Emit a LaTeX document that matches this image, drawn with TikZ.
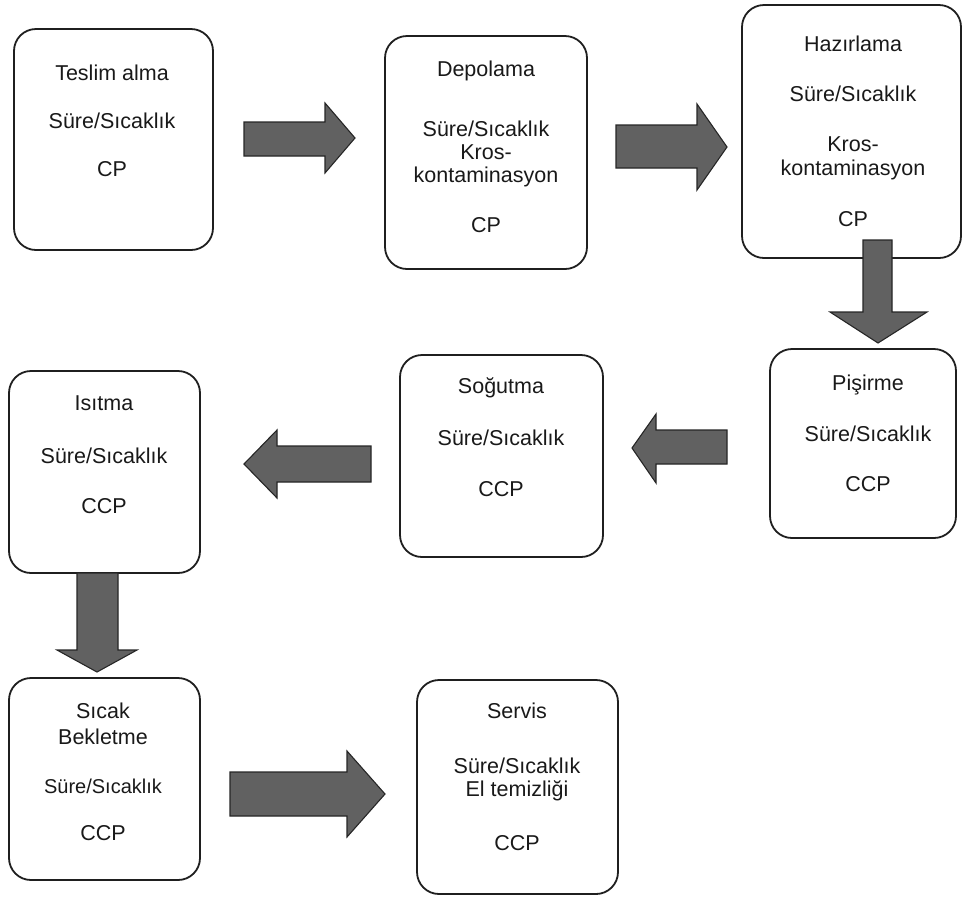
\documentclass[tikz,border=0pt]{standalone}
\usepackage{fontspec}
\setmainfont{Liberation Sans}
\usetikzlibrary{fit}
\begin{document}
\begin{tikzpicture}[x=1pt,y=-1pt,
  stagebox/.style={draw=black!88, line width=1.8pt, rounded corners=22pt, inner sep=0pt},
  lbl/.style={anchor=base, inner sep=0pt, text=black!90, font=\fontsize{21.5}{25}\selectfont},
  blockarr/.style={fill=black!62, draw=black!85, line width=1.1pt, line join=miter}]
\useasboundingbox (0,0) rectangle (965,898);

% process stages
\node[stagebox, fit={(14,29) (213,250)}] (teslim) {};
\node[stagebox, fit={(385,36) (587,269)}] (depo) {};
\node[stagebox, fit={(742,5) (961,258)}] (hazir) {};
\node[stagebox, fit={(770,349) (956,538)}] (pisir) {};
\node[stagebox, fit={(400,355) (603,557)}] (sogut) {};
\node[stagebox, fit={(9,371) (200,573)}] (isit) {};
\node[stagebox, fit={(9,678) (200,880)}] (sicak) {};
\node[stagebox, fit={(417,680) (618,894)}] (servis) {};

% stage texts (y = baseline)
\node[lbl] (teslim-a) at (112,80) {Teslim alma};
\node[lbl] (teslim-b) at (112,128) {Süre/Sıcaklık};
\node[lbl] (teslim-c) at (112,176) {CP};

\node[lbl] (depo-a) at (486,76) {Depolama};
\node[lbl] (depo-b) at (486,136) {Süre/Sıcaklık};
\node[lbl] (depo-c) at (486,159) {Kros-};
\node[lbl] (depo-d) at (486,182) {kontaminasyon};
\node[lbl] (depo-e) at (486,232) {CP};

\node[lbl] (hazir-a) at (853,51) {Hazırlama};
\node[lbl] (hazir-b) at (853,101) {Süre/Sıcaklık};
\node[lbl] (hazir-c) at (853,151) {Kros-};
\node[lbl] (hazir-d) at (853,175) {kontaminasyon};
\node[lbl] (hazir-e) at (853,226) {CP};

\node[lbl] (pisir-a) at (868,390) {Pişirme};
\node[lbl] (pisir-b) at (868,441) {Süre/Sıcaklık};
\node[lbl] (pisir-c) at (868,491) {CCP};

\node[lbl] (sogut-a) at (501,393) {Soğutma};
\node[lbl] (sogut-b) at (501,445) {Süre/Sıcaklık};
\node[lbl] (sogut-c) at (501,496) {CCP};

\node[lbl] (isit-a) at (104,410) {Isıtma};
\node[lbl] (isit-b) at (104,463) {Süre/Sıcaklık};
\node[lbl] (isit-c) at (104,513) {CCP};

\node[lbl] (sicak-a) at (103,718) {Sıcak};
\node[lbl] (sicak-b) at (103,744) {Bekletme};
\node[lbl, font=\fontsize{20}{24}\selectfont] (sicak-c) at (103,793) {Süre/Sıcaklık};
\node[lbl] (sicak-d) at (103,840) {CCP};

\node[lbl] (servis-a) at (517,718) {Servis};
\node[lbl] (servis-b) at (517,773) {Süre/Sıcaklık};
\node[lbl] (servis-c) at (517,796) {El temizliği};
\node[lbl] (servis-d) at (517,850) {CCP};

% block arrows between the stages
\filldraw[blockarr] (244,122) -- (325,122) -- (325,103) -- (355,138) -- (325,173) -- (325,156) -- (244,156) -- cycle;
\filldraw[blockarr] (616,125) -- (697,125) -- (697,104) -- (727,147) -- (697,190) -- (697,168) -- (616,168) -- cycle;
\filldraw[blockarr] (863,240) -- (863,312) -- (830,312) -- (878,343) -- (927,312) -- (892,312) -- (892,240) -- cycle;
\filldraw[blockarr] (727,430) -- (656,430) -- (656,414) -- (632,448) -- (656,483) -- (656,464) -- (727,464) -- cycle;
\filldraw[blockarr] (371,446) -- (277,446) -- (277,430) -- (244,464) -- (277,498) -- (277,482) -- (371,482) -- cycle;
\filldraw[blockarr] (77,573) -- (77,650) -- (57,650) -- (97,672) -- (137,650) -- (118,650) -- (118,573) -- cycle;
\filldraw[blockarr] (230,772) -- (347,772) -- (347,751) -- (385,794) -- (347,837) -- (347,816) -- (230,816) -- cycle;
\end{tikzpicture}
\end{document}
